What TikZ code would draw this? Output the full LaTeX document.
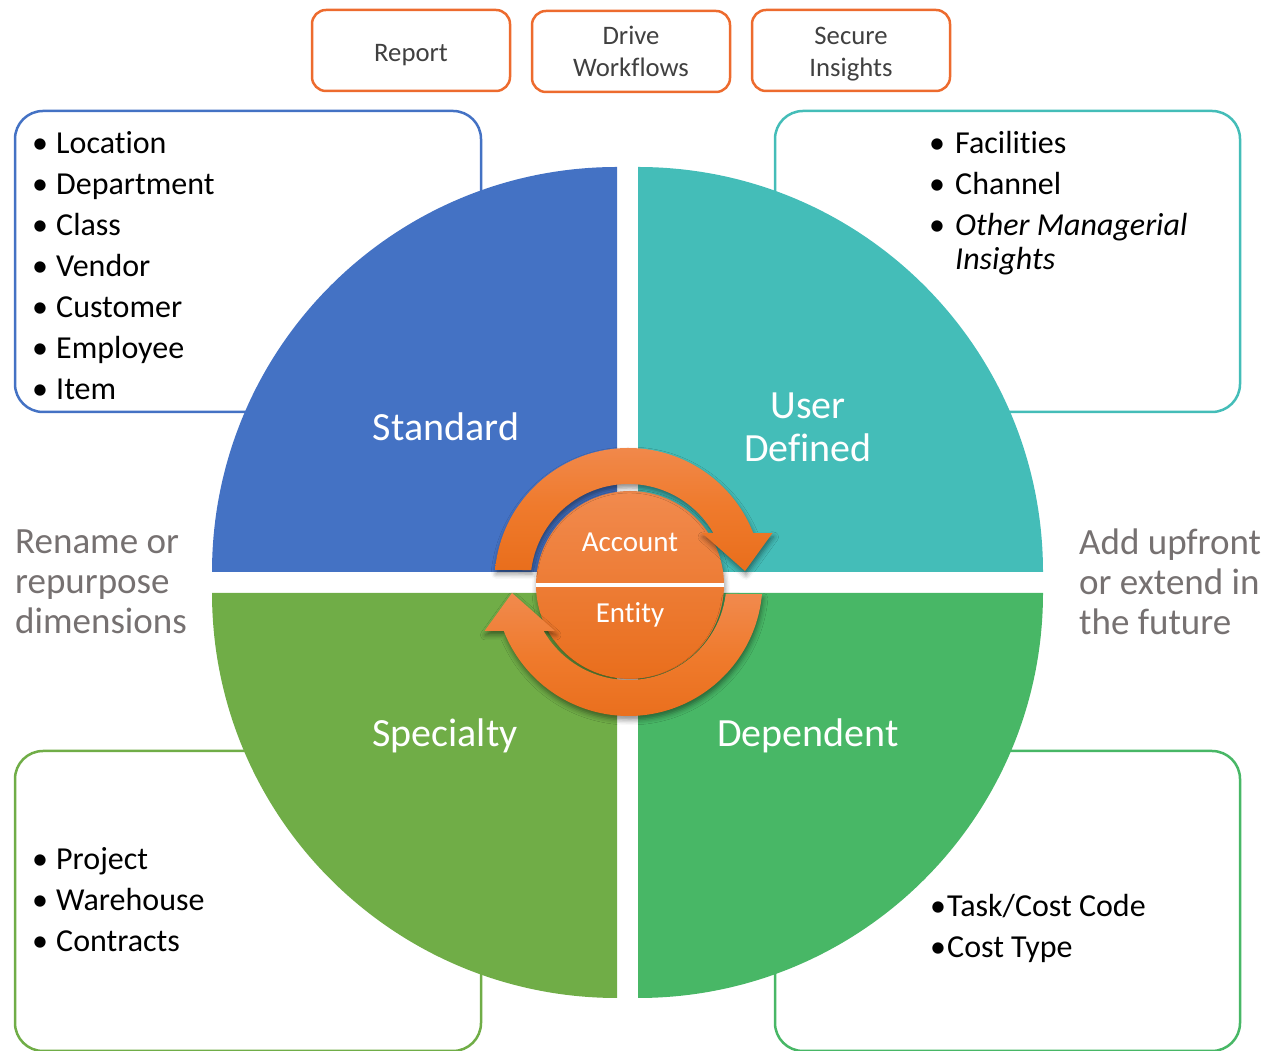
\documentclass[tikz,border=0pt]{standalone}
\usepackage{fontspec}
\setmainfont[Ligatures=NoCommon]{Carlito}
\usetikzlibrary{shadows.blur,calc}
\definecolor{cblue}{HTML}{4472C4}
\definecolor{cteal}{HTML}{44BDB8}
\definecolor{cspec}{HTML}{70AD47}
\definecolor{cdep}{HTML}{48B766}
\definecolor{corange}{HTML}{ED6B2E}
\definecolor{olight}{HTML}{F18A4E}
\definecolor{omid}{HTML}{EF7A2C}
\definecolor{odark}{HTML}{E96E1C}
\definecolor{sidegray}{HTML}{767171}
\definecolor{boxtext}{HTML}{404040}
\tikzset{
  bigbox/.style={draw, line width=2.5pt, rounded corners=28pt, inner sep=0pt},
  topbox/.style={draw=corange, line width=2.5pt, rounded corners=14pt, minimum width=198pt, minimum height=81pt, inner sep=0pt},
  toptxt/.style={anchor=base, inner sep=0pt, text=boxtext, font=\fontsize{26.7}{32}\selectfont},
  itemtxt/.style={anchor=base west, inner sep=0pt, font=\fontsize{32}{37}\selectfont},
  bul/.style={anchor=base west, inner sep=0pt, font=\fontsize{32}{37}\selectfont},
  qlabel/.style={anchor=base, inner sep=0pt, text=white, font=\fontsize{40}{43}\selectfont},
  sidetxt/.style={anchor=base west, inner sep=0pt, text=sidegray, font=\fontsize{37}{40}\selectfont},
  ctext/.style={inner sep=0pt, text=white, font=\fontsize{29}{32}\selectfont},
  arrowfill/.style={top color=olight, bottom color=odark, middle color=omid, blur shadow={shadow xshift=1pt, shadow yshift=-4pt, shadow opacity=45, shadow blur radius=5pt}}
}
\begin{document}
\begin{tikzpicture}[x=1pt,y=1pt]
\useasboundingbox (0,0) rectangle (1268,1051);

% outer boxes
\node[bigbox, draw=cblue, minimum width=466pt, minimum height=301pt] (boxTL) at (248,789.5) {};
\node[bigbox, draw=cteal, minimum width=465pt, minimum height=301pt] (boxTR) at (1007.5,789.5) {};
\node[bigbox, draw=cspec, minimum width=466pt, minimum height=300pt] (boxBL) at (248,150) {};
\node[bigbox, draw=cdep, minimum width=465pt, minimum height=300pt] (boxBR) at (1007.5,150) {};

% top boxes
\node[topbox] (report) at (411,1000.5) {};
\node[topbox] (drive) at (631,999.5) {};
\node[topbox] (secure) at (851,1000.5) {};
\node[toptxt] (treport) at (411,989) {Report};
\node[toptxt] (tdrive1) at (631,1006) {Drive};
\node[toptxt] (tdrive2) at (631,974) {Workflows};
\node[toptxt] (tsec1) at (851,1006) {Secure};
\node[toptxt] (tsec2) at (851,974) {Insights};

% quadrants
\fill[cblue] (617,479) -- (212,479) arc[start angle=180, end angle=90, radius=405] -- cycle;
\fill[cteal] (638,479) -- (638,884) arc[start angle=90, end angle=0, radius=405] -- cycle;
\fill[cspec] (617,458) -- (212,458) arc[start angle=180, end angle=270, radius=405] -- cycle;
\fill[cdep] (638,458) -- (1043,458) arc[start angle=0, end angle=-90, radius=405] -- cycle;

% quadrant labels
\node[qlabel] (lstd) at (446,610) {Standard};
\node[qlabel] (luser) at (808,632) {User};
\node[qlabel] (ldef) at (808,589) {Defined};
\node[qlabel] (lspec) at (445,304) {Specialty};
\node[qlabel] (ldep) at (808,304) {Dependent};

% left list
\foreach \t/\yy [count=\i] in {Location/897,Department/856,Class/815,Vendor/774,Customer/733,Employee/692,Item/651}{
  \node[bul] (bl\i) at (32,\yy) {•};
  \node[itemtxt] (tl\i) at (56,\yy) {\t};
}
% top right list
\node[bul] (br1) at (929,897) {•};
\node[itemtxt] (tr1) at (955,897) {Facilities};
\node[bul] (br2) at (929,856) {•};
\node[itemtxt] (tr2) at (955,856) {Channel};
\node[bul] (br3) at (929,815) {•};
\node[itemtxt] (tr3) at (955,815) {\itshape Other Managerial};
\node[itemtxt] (tr4) at (955,781) {\itshape Insights};
% bottom left list
\foreach \t/\yy [count=\i] in {Project/181,Warehouse/140,Contracts/99}{
  \node[bul] (bb\i) at (32,\yy) {•};
  \node[itemtxt] (tb\i) at (56,\yy) {\t};
}
% bottom right list
\node[bul] (bd1) at (930,134) {•};
\node[itemtxt] (td1) at (947,134) {Task/Cost Code};
\node[bul] (bd2) at (930,93) {•};
\node[itemtxt] (td2) at (947,93) {Cost Type};

% side texts
\node[sidetxt] (s1) at (15,497) {Rename or};
\node[sidetxt] (s2) at (15,457) {repurpose};
\node[sidetxt] (s3) at (15,417) {dimensions};
\node[sidetxt] (r1) at (1079,496) {Add upfront};
\node[sidetxt] (r2) at (1079,456) {or extend in};
\node[sidetxt] (r3) at (1079,416) {the future};

% centre circle
\node[circle, minimum size=188pt, inner sep=0pt, top color=olight, bottom color=odark,
      blur shadow={shadow xshift=1pt, shadow yshift=-4pt, shadow opacity=45, shadow blur radius=5pt}] (core) at (630,466) {};
\draw[white, line width=4pt] (core.west) -- (core.east);
\node[ctext] (acct) at (630,509) {Account};
\node[ctext] (ent) at (630,436) {Entity};

% circular arrows
\coordinate (A) at (628.5,469);
\path[arrowfill] ($(A)+(174.8:134)$) arc[start angle=174.8, end angle=21.4, radius=134]
  -- ($(A)+(144,49)$) -- ($(A)+(116.5,11)$) -- ($(A)+(73.5,49)$) -- ($(A)+(30:98)$)
  arc[start angle=30, end angle=173, radius=98] -- cycle;
\begin{scope}[rotate around={180:(A)}]
\path[arrowfill] ($(A)+(174.8:134)$) arc[start angle=174.8, end angle=21.4, radius=134]
  -- ($(A)+(144,49)$) -- ($(A)+(116.5,11)$) -- ($(A)+(73.5,49)$) -- ($(A)+(30:98)$)
  arc[start angle=30, end angle=173, radius=98] -- cycle;
\end{scope}
\end{tikzpicture}
\end{document}
